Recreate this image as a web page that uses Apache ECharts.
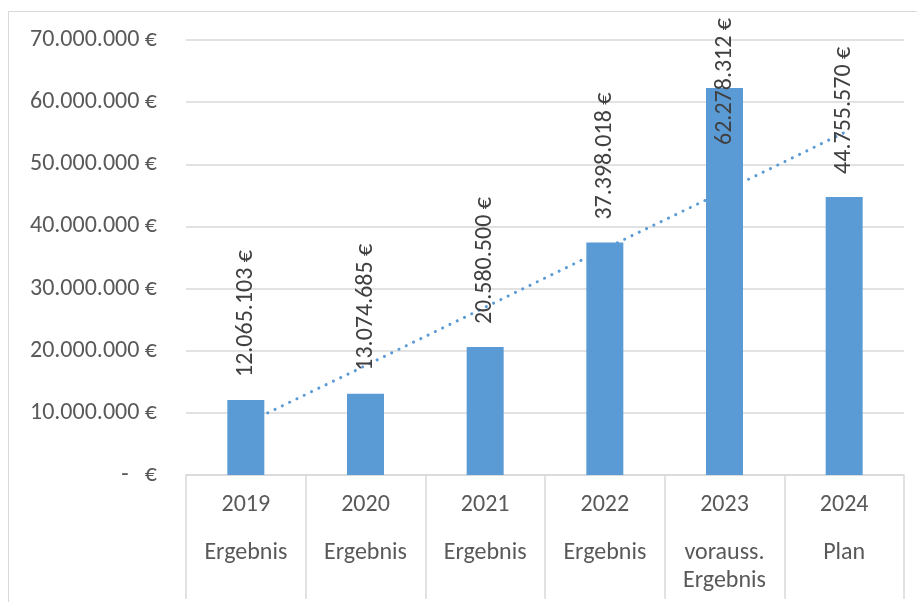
<!DOCTYPE html>
<html>
<head>
<meta charset="utf-8">
<title>Ergebnis</title>
<script src="https://cdn.jsdelivr.net/npm/echarts@6/dist/echarts.min.js"></script>
<style>
    html, body { margin: 0; padding: 0; background: #fff; }
    #chart { width: 917px; height: 602px; }
</style>
</head>
<body>
<div id="chart"></div>
<script>
// Daten
const years = ["2019", "2020", "2021", "2022", "2023", "2024"];
const subLabels = [["Ergebnis"], ["Ergebnis"], ["Ergebnis"], ["Ergebnis"], ["vorauss.", "Ergebnis"], ["Plan"]];
const values = [12065103, 13074685, 20580500, 37398018, 62278312, 44755570];
// lineare Trendlinie
const trend = [8300000, 17600000, 27000000, 36400000, 45700000, 55100000];

const font = "Carlito, 'Open Sans', sans-serif";

function euro(v) {
    if (v === 0) return "-   €";
    return String(Math.round(v)).replace(/\B(?=(\d{3})+(?!\d))/g, ".") + " €";
}

const barData = values.map(function (v, i) {
    if (i === 4) {
        // Label oben im Diagramm begrenzt
        return { value: v, label: { position: ["50%", 57] } };
    }
    return v;
});

const myChart = echarts.init(document.getElementById("chart"));
myChart.setOption({
    animation: false,
    backgroundColor: "#ffffff",
    graphic: [
        {
            type: "rect",
            shape: { x: 8.5, y: 11.5, width: 1000, height: 1000 },
            style: { fill: "none", stroke: "#D9D9D9", lineWidth: 1 },
            silent: true,
        },
    ],
    grid: {
        left: 186,
        right: 13,
        top: 40,
        bottom: 127,
    },
    xAxis: {
        type: "category",
        data: years,
        axisLine: { show: true, lineStyle: { color: "#D9D9D9", width: 1.5 } },
        axisTick: { show: true, length: 124, lineStyle: { color: "#D9D9D9", width: 1.5 } },
        axisLabel: {
            margin: 16,
            interval: 0,
            formatter: function (val, idx) {
                let s = "{y|" + val + "}\n{g| }";
                subLabels[idx].forEach(function (t) {
                    s += "\n{s|" + t + "}";
                });
                return s;
            },
            rich: {
                y: { fontFamily: font, fontSize: 24, color: "#595959", lineHeight: 28 },
                g: { fontSize: 10, lineHeight: 20 },
                s: { fontFamily: font, fontSize: 24, color: "#595959", lineHeight: 28 },
            },
        },
    },
    yAxis: {
        type: "value",
        min: 0,
        max: 70000000,
        interval: 10000000,
        axisLine: { show: false },
        axisTick: { show: false },
        splitLine: { lineStyle: { color: "#D9D9D9", width: 1.5 } },
        axisLabel: {
            margin: 29,
            fontFamily: font,
            fontSize: 24,
            color: "#595959",
            formatter: euro,
        },
    },
    series: [
        {
            type: "line",
            data: trend,
            z: 1,
            symbol: "none",
            silent: true,
            lineStyle: {
                color: "#5B9BD5",
                width: 3,
                type: [0.1, 8],
                cap: "round",
            },
        },
        {
            type: "bar",
            data: barData,
            z: 2,
            barWidth: 37,
            itemStyle: { color: "#5B9BD5" },
            label: {
                show: true,
                position: "top",
                distance: 23,
                rotate: 90,
                align: "left",
                verticalAlign: "middle",
                fontFamily: font,
                fontSize: 24,
                color: "#404040",
                formatter: function (p) {
                    return euro(p.value);
                },
            },
        },
    ],
});
</script>
</body>
</html>
